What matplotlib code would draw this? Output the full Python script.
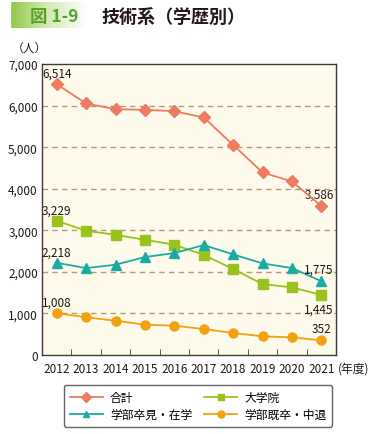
import matplotlib.pyplot as plt
import matplotlib.patches as patches
import numpy as np

plt.rcParams['font.family'] = ['Noto Sans CJK JP', 'DejaVu Sans']

years = [2012, 2013, 2014, 2015, 2016, 2017, 2018, 2019, 2020, 2021]
total = [6514, 6050, 5913, 5897, 5865, 5714, 5055, 4391, 4175, 3586]
graduate = [3229, 2988, 2892, 2772, 2652, 2411, 2067, 1707, 1627, 1445]
undergrad_new = [2218, 2091, 2171, 2356, 2452, 2644, 2420, 2204, 2091, 1775]
undergrad_old = [1008, 906, 825, 728, 704, 625, 529, 450, 425, 352]
series_names = ['合計', '大学院', '学部卒見・在学', '学部既卒・中退']

W, H = 380, 435
fig = plt.figure(figsize=(W / 100, H / 100), dpi=100)

# header badge
hdr = fig.add_axes([0, 0, 1, 1], zorder=-1)
hdr.set_xlim(0, W)
hdr.set_ylim(H, 0)
hdr.axis('off')
grad = np.linspace(0, 1, 200)[None, :]
cmap = plt.matplotlib.colors.LinearSegmentedColormap.from_list(
    'g', ['#8cc63f', '#d5eab5', '#ffffff'])
hdr.imshow(grad, extent=(8, 88, 29, 3), cmap=cmap, aspect='auto')
hdr.add_patch(patches.Rectangle((0, 0), 10, 35, color='white'))
hdr.text(30, 17, '図 1-9', color='#5aa02c', fontsize=12.5, fontweight='bold', va='center')
hdr.text(101, 17, '技術系（学歴別）', color='#231815', fontsize=13, fontweight='bold', va='center')
hdr.text(12, 48, '（人）', color='#231815', fontsize=8.5, va='center')

ax = fig.add_axes([42 / W, 1 - 356 / H, (336 - 42) / W, (356 - 65) / H])
ax.set_facecolor('#fefbec')

l1, = ax.plot(years, total, color='#ee7a62', marker='D', markersize=6, lw=1.3, label=series_names[0], zorder=4)
l2, = ax.plot(years, graduate, color='#99c31c', marker='s', markersize=7, lw=1.3, label=series_names[1], zorder=3)
l3, = ax.plot(years, undergrad_new, color='#1aaba5', marker='^', markersize=7, lw=1.3, label=series_names[2], zorder=3)
l4, = ax.plot(years, undergrad_old, color='#f5a00f', marker='o', markersize=6.5, lw=1.3, label=series_names[3], zorder=3)

ax.set_xlim(2011.5, 2021.5)
ax.set_ylim(0, 7000)
ax.set_yticks(range(0, 7001, 1000))
ax.set_yticklabels(['0' if v == 0 else f'{v:,}' for v in range(0, 7001, 1000)])
ax.set_xticks(years)
ax.set_xticks(np.arange(2012.5, 2021, 1), minor=True)
ax.tick_params(axis='x', which='major', length=0, labelsize=8.5, colors='#231815', pad=5)
ax.tick_params(axis='x', which='minor', direction='in', length=4, color='#3e3a39')
ax.tick_params(axis='y', length=0, labelsize=8.5, colors='#231815', pad=3)
for v in range(1000, 7000, 1000):
    ax.axhline(v, color='#b59a76', lw=1, ls=(0, (4, 3)), zorder=1)
for s in ax.spines.values():
    s.set_color('#3e3a39')
    s.set_linewidth(1)

lab_kw = dict(fontsize=8.5, color='#231815', ha='center')
ax.text(years[0], total[0] + 180, f'{total[0]:,}', **lab_kw)
ax.text(years[-1] - 0.05, total[-1] + 200, f'{total[-1]:,}', **lab_kw)
ax.text(years[0], graduate[0] + 180, f'{graduate[0]:,}', **lab_kw)
ax.text(years[-1] - 0.1, graduate[-1] - 420, f'{graduate[-1]:,}', **lab_kw)
ax.text(years[0], undergrad_new[0] + 180, f'{undergrad_new[0]:,}', **lab_kw)
ax.text(years[-1] - 0.1, undergrad_new[-1] + 200, f'{undergrad_new[-1]:,}', **lab_kw)
ax.text(years[0], undergrad_old[0] + 180, f'{undergrad_old[0]:,}', **lab_kw)
ax.text(years[-1], undergrad_old[-1] + 200, f'{undergrad_old[-1]:,}', **lab_kw)
ax.text(2021.58, -150, '(年度)', fontsize=8.5, color='#231815', ha='left', va='top',
        transform=ax.transData, clip_on=False)

# row-wise order: 合計, 大学院 / 学部卒見・在学, 学部既卒・中退
leg = fig.legend([l1, l3, l2, l4], [series_names[0], series_names[2], series_names[1], series_names[3]],
                 loc='upper left', bbox_to_anchor=(58 / W, 1 - 380 / H), ncol=2,
                 fontsize=8.5, frameon=True, handlelength=2.8, columnspacing=1.0,
                 handletextpad=0.6, borderpad=0.5, labelspacing=0.35, fancybox=True)
leg.get_frame().set_edgecolor('#3e3a39')
leg.get_frame().set_linewidth(1)
for h in leg.legend_handles:
    h.set_markersize(5)

fig.savefig('out.png', dpi=100)
